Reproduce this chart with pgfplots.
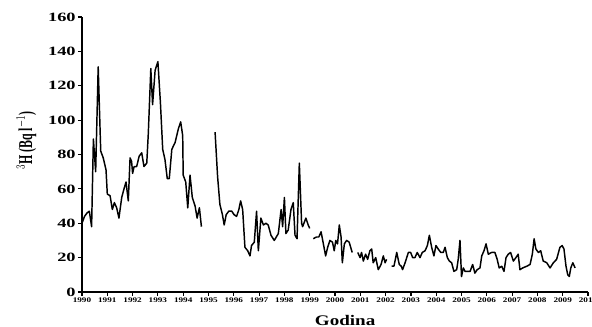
\documentclass[border=0pt]{standalone}
\usepackage{fontspec}
\setmainfont{Liberation Serif}
\usepackage{pgfplots}
\pgfplotsset{compat=1.18}
\usepackage{pgfplotstable}
\pgfplotstableread{
x y
1990.00 40
1990.10 44
1990.20 46
1990.29 47
1990.38 38
1990.45 89
1990.54 70
1990.64 131
1990.74 82
1990.84 78
1990.95 71
1991.00 57
1991.11 56
1991.20 48
1991.28 52
1991.37 49
1991.46 43
1991.57 55
1991.66 60
1991.74 64
1991.83 53
1991.90 78
1991.96 76
1992.00 69
1992.06 73
1992.16 73
1992.26 79
1992.36 81
1992.45 73
1992.56 75
1992.62 92
1992.72 130
1992.79 109
1992.89 129
1993.00 134
1993.10 110
1993.19 83
1993.28 77
1993.37 66
1993.45 66
1993.55 83
1993.68 87
1993.81 95
1993.90 99
1993.98 91
1994.00 68
1994.10 64
1994.18 49
1994.27 68
1994.36 55
1994.47 50
1994.55 43
1994.64 49
1994.72 38
1994.90 nan
1995.26 93
1995.36 67
1995.45 51
1995.55 45
1995.62 39
1995.70 45
1995.80 47
1995.92 47
1996.01 45
1996.11 44
1996.20 48
1996.27 53
1996.35 48
1996.44 26
1996.55 24
1996.64 21
1996.70 27
1996.81 29
1996.90 47
1996.97 24
1997.07 43
1997.17 39
1997.27 40
1997.36 39
1997.47 33
1997.60 30
1997.76 34
1997.87 48
1997.93 38
1998.00 55
1998.06 34
1998.15 36
1998.26 48
1998.35 52
1998.42 33
1998.50 31
1998.59 75
1998.68 40
1998.72 38
1998.85 43
1998.94 39
1999.00 37
1999.07 nan
1999.14 31
1999.27 32
1999.36 32
1999.45 35
1999.54 28
1999.63 21
1999.71 26
1999.80 30
1999.90 29
1999.97 24
2000.03 30
2000.10 28
2000.17 39
2000.24 32
2000.29 17
2000.37 28
2000.46 30
2000.56 29
2000.68 23
2000.80 nan
2000.90 23
2000.99 20
2001.05 23
2001.12 18
2001.21 22
2001.29 19
2001.38 24
2001.45 25
2001.51 17
2001.61 20
2001.71 13
2001.82 16
2001.91 21
2001.98 17
2002.04 19
2002.14 nan
2002.24 15
2002.33 15
2002.44 23
2002.54 16
2002.62 15
2002.67 13
2002.77 17
2002.90 23
2002.99 23
2003.07 20
2003.16 20
2003.25 23
2003.36 20
2003.45 23
2003.56 24
2003.65 27
2003.73 33
2003.82 26
2003.91 21
2003.99 27
2004.08 25
2004.18 23
2004.28 23
2004.35 26
2004.44 20
2004.52 18
2004.61 17
2004.70 12
2004.81 13
2004.87 19
2004.94 30
2005.00 9
2005.07 14
2005.14 12
2005.23 12
2005.34 12
2005.44 16
2005.53 11
2005.62 13
2005.73 14
2005.80 21
2005.89 24
2005.97 28
2006.06 22
2006.19 23
2006.32 23
2006.41 19
2006.49 14
2006.59 15
2006.68 12
2006.76 20
2006.85 22
2006.94 23
2007.05 18
2007.15 20
2007.24 22
2007.31 13
2007.42 14
2007.58 15
2007.71 16
2007.80 22
2007.87 31
2007.94 25
2008.04 23
2008.13 24
2008.23 18
2008.37 17
2008.50 14
2008.63 17
2008.76 19
2008.89 26
2008.98 27
2009.05 25
2009.13 15
2009.20 10
2009.26 9
2009.32 14
2009.40 17
2009.49 14
}\tritium
\begin{document}
\begin{tikzpicture}
\useasboundingbox (0,0) rectangle (444pt,245.25pt);
\begin{axis}[
  at={(61.5pt,26.25pt)}, anchor=south west,
  scale only axis, width=379.5pt, height=206.25pt,
  xmin=1990, xmax=2010, ymin=0, ymax=160,
  axis x line*=bottom, axis y line*=left,
  axis line style={line width=1pt},
  tick align=outside, tick style={line width=0.9pt, black},
  major tick length=3pt,
  xtick={1990,1991,...,2010},
  ytick={0,20,...,160},
  /pgf/number format/1000 sep={},
  /pgf/number format/assume math mode=true,
  xticklabel style={font=\bfseries\fontsize{5.3}{6}\selectfont, xscale=1.3, inner sep=1pt},
  yticklabel style={font=\bfseries\fontsize{9.5}{11}\selectfont, xscale=1.45, inner sep=1pt},
  xlabel={Godina},
  xlabel style={font=\bfseries\fontsize{11}{13}\selectfont, xscale=1.3, at={(axis description cs:0.52,0)}, anchor=north, yshift=-17pt, inner sep=0pt},
  ylabel={$^{3}$H (Bq l$^{-1}$)},
  ylabel style={font=\bfseries\fontsize{10.5}{12}\selectfont, at={(axis description cs:-0.11,0.55)}, anchor=center, inner sep=0pt, xscale=0.85, yscale=1.4},
  unbounded coords=jump,
  clip=false,
]
\addplot[black, line width=1.1pt, line join=round] table[x=x, y=y] {\tritium};
\end{axis}
\end{tikzpicture}
\end{document}
